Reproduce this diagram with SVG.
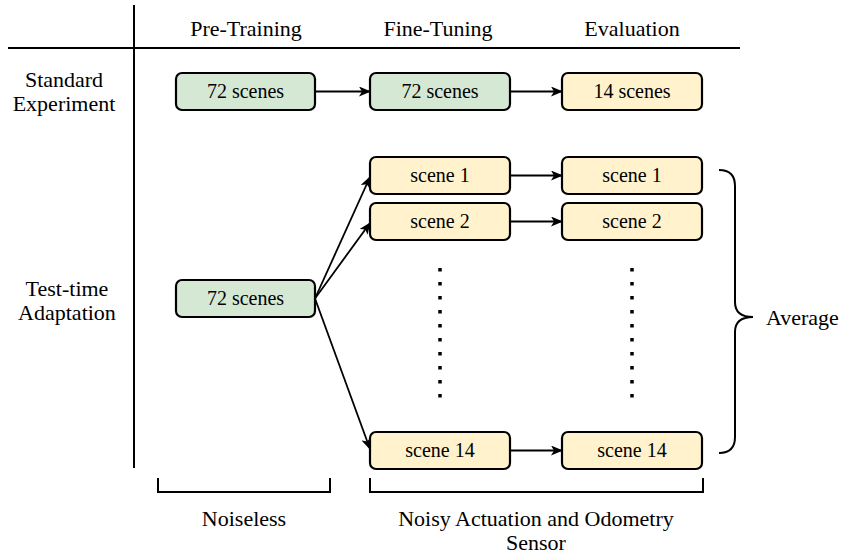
<svg xmlns="http://www.w3.org/2000/svg" width="841" height="554" viewBox="0 0 841 554" font-family="'Liberation Serif', 'Times New Roman', serif">
  <style>
    text { font-family: "Liberation Serif", "Times New Roman", serif; font-size: 22px; fill: #000; }
    .c { text-anchor: middle; }
    .n { font-size: 20px; }
    .box { stroke: #000; stroke-width: 2.2; }
    .g { fill: #d5e8d4; }
    .y { fill: #fff2cc; }
    .ln { stroke: #000; stroke-width: 2; fill: none; }
    .ar { stroke: #000; stroke-width: 1.8; fill: none; marker-end: url(#head); }
    .dots { stroke: #000; stroke-width: 3.5; stroke-dasharray: 3.5 10.5; }
  </style>
  <defs>
    <marker id="head" viewBox="0 0 12 10" refX="11" refY="5" markerWidth="12" markerHeight="10" markerUnits="userSpaceOnUse" orient="auto">
      <path d="M0,0 L12,5 L0,10 L3,5 Z" fill="#000"/>
    </marker>
  </defs>

  <!-- table frame -->
  <g id="frame">
    <line class="ln" x1="134" y1="5" x2="134" y2="468"/>
    <line class="ln" x1="8" y1="48" x2="740" y2="48"/>
  </g>

  <!-- column and row headers -->
  <g id="headers">
    <text class="c" x="246" y="36">Pre-Training</text>
    <text class="c" x="438" y="36">Fine-Tuning</text>
    <text class="c" x="632" y="36">Evaluation</text>
    <text class="c" x="64" y="87">Standard</text>
    <text class="c" x="64" y="111">Experiment</text>
    <text class="c" x="67" y="296">Test-time</text>
    <text class="c" x="67" y="320">Adaptation</text>
  </g>

  <!-- standard experiment row -->
  <g id="std-pre">
    <rect class="box g" x="176" y="73" width="139" height="37" rx="6"/>
    <text class="c n" x="245.5" y="98">72 scenes</text>
  </g>
  <g id="std-ft">
    <rect class="box g" x="370" y="73" width="140" height="37" rx="6"/>
    <text class="c n" x="440" y="98">72 scenes</text>
  </g>
  <g id="std-eval">
    <rect class="box y" x="562" y="73" width="140" height="37" rx="6"/>
    <text class="c n" x="632" y="98">14 scenes</text>
  </g>

  <!-- test-time adaptation row -->
  <g id="tta-pre">
    <rect class="box g" x="176" y="280" width="139" height="37" rx="6"/>
    <text class="c n" x="245.5" y="305">72 scenes</text>
  </g>
  <g id="ft-scene1">
    <rect class="box y" x="370" y="157" width="140" height="37" rx="6"/>
    <text class="c n" x="440" y="182">scene 1</text>
  </g>
  <g id="ev-scene1">
    <rect class="box y" x="562" y="157" width="140" height="37" rx="6"/>
    <text class="c n" x="632" y="182">scene 1</text>
  </g>
  <g id="ft-scene2">
    <rect class="box y" x="370" y="203" width="140" height="37" rx="6"/>
    <text class="c n" x="440" y="228">scene 2</text>
  </g>
  <g id="ev-scene2">
    <rect class="box y" x="562" y="203" width="140" height="37" rx="6"/>
    <text class="c n" x="632" y="228">scene 2</text>
  </g>
  <g id="ft-scene14">
    <rect class="box y" x="370" y="432" width="140" height="37" rx="6"/>
    <text class="c n" x="440" y="457">scene 14</text>
  </g>
  <g id="ev-scene14">
    <rect class="box y" x="562" y="432" width="140" height="37" rx="6"/>
    <text class="c n" x="632" y="457">scene 14</text>
  </g>

  <!-- vertical ellipsis between scene 2 and scene 14 -->
  <g id="ellipsis">
    <line class="dots" x1="440" y1="268" x2="440" y2="398"/>
    <line class="dots" x1="632" y1="268" x2="632" y2="398"/>
  </g>

  <!-- connectors -->
  <g id="connectors">
    <line class="ar" x1="315" y1="91.5" x2="370" y2="91.5"/>
    <line class="ar" x1="510" y1="91.5" x2="562" y2="91.5"/>
    <line class="ar" x1="315" y1="298.5" x2="370" y2="177"/>
    <line class="ar" x1="315" y1="298.5" x2="370" y2="223"/>
    <line class="ar" x1="315" y1="298.5" x2="370" y2="449"/>
    <line class="ar" x1="510" y1="175.5" x2="562" y2="175.5"/>
    <line class="ar" x1="510" y1="221.5" x2="562" y2="221.5"/>
    <line class="ar" x1="510" y1="450.5" x2="562" y2="450.5"/>
  </g>

  <!-- averaging brace -->
  <g id="average">
    <path class="ln" d="M719,170 Q735,170 735,186 L735,302 Q735,317 753,317 Q735,317 735,332 L735,437 Q735,453 719,453"/>
    <text x="766" y="325">Average</text>
  </g>

  <!-- bottom brackets -->
  <g id="noiseless">
    <path class="ln" d="M158,478 L158,492 L330,492 L330,478"/>
    <text class="c" x="244" y="526">Noiseless</text>
  </g>
  <g id="noisy">
    <path class="ln" d="M370,478 L370,492 L703,492 L703,478"/>
    <text class="c" x="536" y="526">Noisy Actuation and Odometry</text>
    <text class="c" x="536" y="550">Sensor</text>
  </g>
</svg>
